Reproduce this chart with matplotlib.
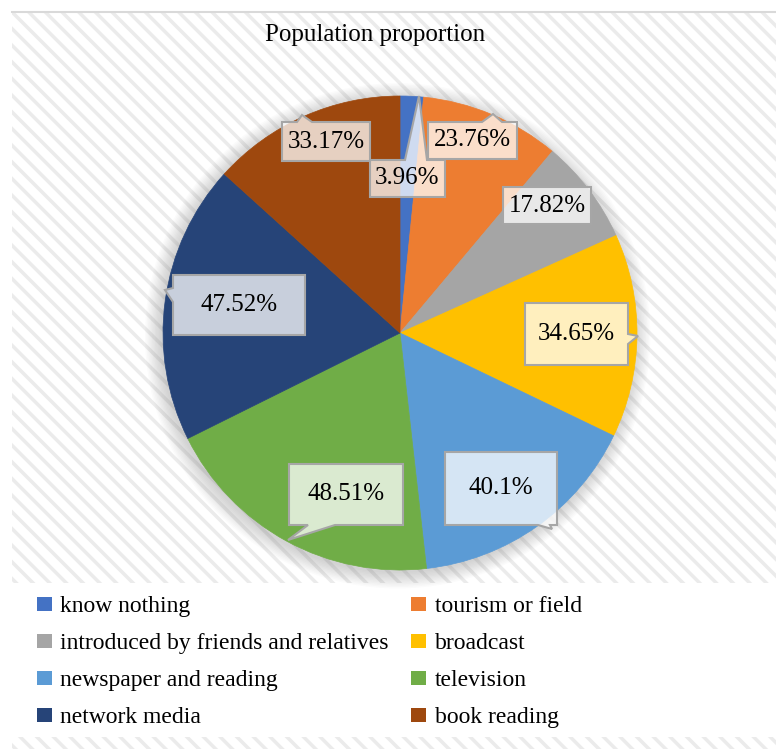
import matplotlib
matplotlib.use("Agg")
import matplotlib.pyplot as plt
from matplotlib.patches import Rectangle, Polygon, Circle, Patch

plt.rcParams['font.family'] = ['Liberation Serif', 'DejaVu Serif']
plt.rcParams['hatch.color'] = '#ebebeb'
plt.rcParams['hatch.linewidth'] = 2.5

# data
categories = ['know nothing', 'tourism or field', 'introduced by friends and relatives',
              'broadcast', 'newspaper and reading', 'television', 'network media', 'book reading']
values = [3.96, 23.76, 17.82, 34.65, 40.1, 48.51, 47.52, 33.17]
labels = ['3.96%', '23.76%', '17.82%', '34.65%', '40.1%', '48.51%', '47.52%', '33.17%']
colors = ['#4472C4', '#ED7D31', '#A5A5A5', '#FFC000', '#5B9BD5', '#70AD47', '#264478', '#9E480E']

# callout boxes in pixels (left, top, right, bottom) and pointers (side, start, end, tip x, tip y)
W, H = 776, 749
CX, CY, R = 400, 333, 237
boxes = [(370, 160, 445, 197), (428, 122, 517, 159), (503, 187, 591, 224), (525, 303, 628, 365),
         (445, 452, 557, 525), (289, 464, 403, 525), (173, 275, 305, 335), (282, 122, 370, 161)]
pointers = [('top', 405, 427, 419, 96), ('top', 482, 502, 493, 114), None, ('right', 334, 344, 638, 336),
            ('bottom', 538, 550, 552, 529), ('bottom', 308, 335, 288, 540), ('left', 288, 302, 165, 290),
            ('top', 297, 312, 302, 115)]

fig = plt.figure(figsize=(W / 100, H / 100), dpi=100)

# background: hatched chart area with a white legend band
bg = fig.add_axes([0, 0, 1, 1])
bg.set_xlim(0, W)
bg.set_ylim(H, 0)
bg.axis('off')
bg.add_patch(Rectangle((12, 12), W, H, facecolor='white', edgecolor='#ebebeb', lw=0, hatch='\\\\'))
bg.plot([12, W], [12, 12], color='#d9d9d9', lw=1.5)
bg.add_patch(Rectangle((11, 583), W, 154, facecolor='white', edgecolor='none'))

fig.text(375 / W, 1 - 35 / H, 'Population proportion', ha='center', va='center', fontsize=18)

# pie
side = 2.5 * R
ax = fig.add_axes([(CX - side / 2) / W, (H - CY - side / 2) / H, side / W, side / H])
ax.set_xlim(-1.25, 1.25)
ax.set_ylim(-1.25, 1.25)
ax.set_aspect('equal')
ax.axis('off')

# soft shadow
for i in range(12):
    ax.add_patch(Circle((-0.01, -0.012), 1.0 + 0.006 * i, facecolor='#808080', alpha=0.03,
                        edgecolor='none', zorder=0))

wedges, _ = ax.pie(values, colors=colors, startangle=90, counterclock=False, radius=1.0)
for w, c in zip(wedges, colors):
    w.set_edgecolor(c)
    w.set_linewidth(0.5)


def to_data(px, py):
    return ((px - CX) / R, (CY - py) / R)


for lab, (l, t, r, b), ptr in zip(labels, boxes, pointers):
    pts = [(l, t)]
    if ptr and ptr[0] == 'top':
        pts += [(ptr[1], t), (ptr[3], ptr[4]), (ptr[2], t)]
    pts.append((r, t))
    if ptr and ptr[0] == 'right':
        pts += [(r, ptr[1]), (ptr[3], ptr[4]), (r, ptr[2])]
    pts.append((r, b))
    if ptr and ptr[0] == 'bottom':
        pts += [(ptr[2], b), (ptr[3], ptr[4]), (ptr[1], b)]
    pts.append((l, b))
    if ptr and ptr[0] == 'left':
        pts += [(l, ptr[2]), (ptr[3], ptr[4]), (l, ptr[1])]
    poly = Polygon([to_data(*p) for p in pts], closed=True, facecolor=(1, 1, 1, 0.75),
                   edgecolor='#a6a6a6', lw=1.5, zorder=5, clip_on=False)
    ax.add_patch(poly)
    x, y = to_data((l + r) / 2, (t + b) / 2)
    ax.text(x, y, lab, ha='center', va='center', fontsize=18, zorder=6)

# legend, filled row by row
handles = [Patch(facecolor=c, edgecolor='none') for c in colors]
order = [0, 2, 4, 6, 1, 3, 5, 7]
fig.legend([handles[i] for i in order], [categories[i] for i in order], ncol=2,
           loc='upper left', bbox_to_anchor=(37 / W, 1 - 596 / H), frameon=False,
           fontsize=17, borderpad=0, borderaxespad=0, handlelength=0.64, handleheight=0.55,
           handletextpad=0.35, columnspacing=0.95, labelspacing=0.68)

fig.savefig('out.png', dpi=100)
